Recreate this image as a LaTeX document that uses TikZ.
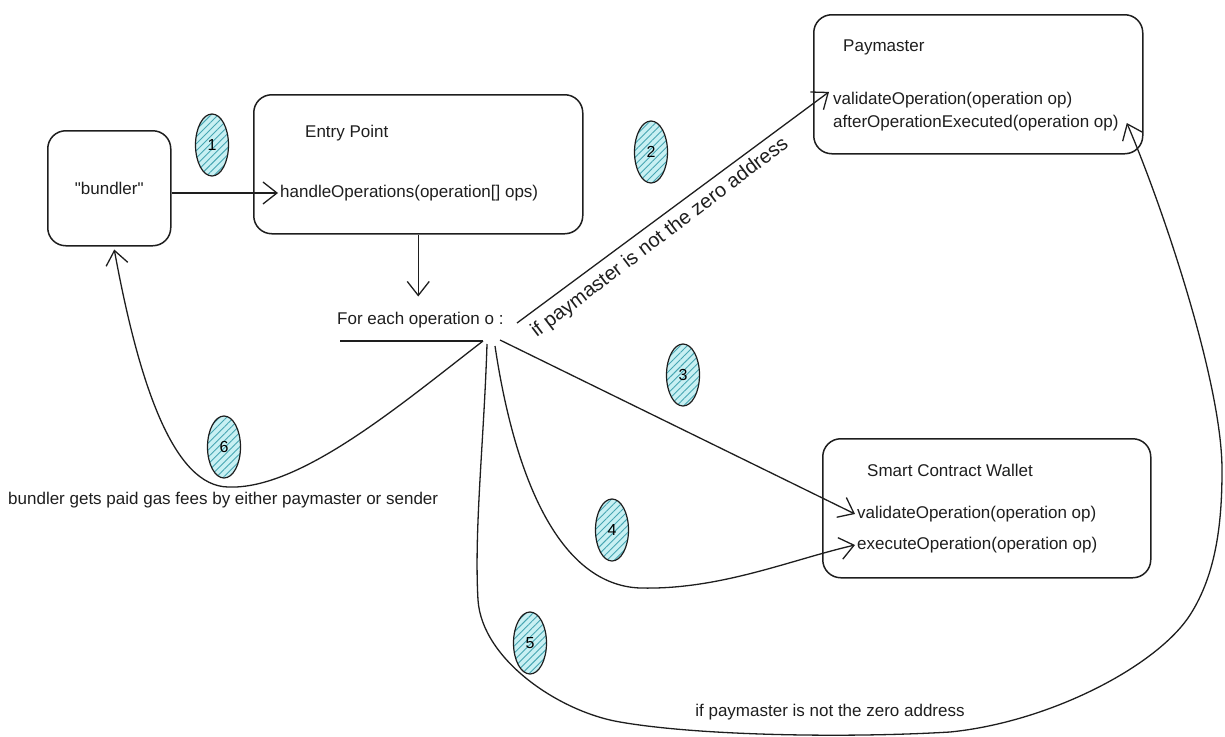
\documentclass[tikz,border=0pt]{standalone}
\usepackage{fontspec}
\setmainfont{Liberation Sans}[Ligatures=TeXOff]
\definecolor{inkdark}{RGB}{30, 30, 30}
\definecolor{hatchfill}{RGB}{200, 240, 243}
\definecolor{hatchline}{RGB}{70, 165, 178}
\usetikzlibrary{arrows.meta, shapes.geometric, patterns.meta, positioning}
\tikzset{
  box/.style={draw=inkdark, line width=1.5pt, rounded corners=18pt, anchor=north west, inner sep=0pt},
  txt/.style={font=\fontsize{17}{23}\selectfont, text=inkdark, inner sep=0pt, anchor=west},
  badge/.style={ellipse, draw=inkdark, line width=1.2pt, minimum width=33pt, minimum height=62pt,
    inner sep=0pt, preaction={fill=hatchfill}, pattern={Lines[angle=45, distance=5pt, line width=0.9pt]},
    pattern color=hatchline, font=\fontsize{16}{16}\selectfont},
  flow/.style={draw=inkdark, line width=1.3pt, -{Straight Barb[length=14pt, width=22pt]}},
}

\begin{document}
\begin{tikzpicture}[x=1pt, y=-1pt]
  \useasboundingbox (0,0) rectangle (1225,736);

  % boxes
  \node[box, minimum width=123pt, minimum height=115pt] (bundlerbox) at (47,130) {};
  \node[box, minimum width=329pt, minimum height=139pt] (entrybox) at (253,94) {};
  \node[box, minimum width=329pt, minimum height=139pt] (pmbox) at (813,14) {};
  \node[box, minimum width=328pt, minimum height=139pt] (scwbox) at (822,438) {};

  % texts
  \node[txt, anchor=center] (bundler) at (bundlerbox.center) {"bundler"};
  \node[txt] (entry) at (305,133) {Entry Point};
  \node[txt] (handle) at (280,193) {handleOperations(operation[] ops)};
  \node[txt] (pm) at (843,47) {Paymaster};
  \node[txt] (pmv) at (833,100) {validateOperation(operation op)};
  \node[txt] (pma) at (833,123) {afterOperationExecuted(operation op)};
  \node[txt] (scw) at (867,470) {Smart Contract Wallet};
  \node[txt] (scwv) at (857,514) {validateOperation(operation op)};
  \node[txt] (scwe) at (857,545) {executeOperation(operation op)};
  \node[txt] (forop) at (337,320) {For each operation o :};
  \node[txt] (paid) at (8,500) {bundler gets paid gas fees by either paymaster or sender};
  \node[txt, anchor=center] (zeronote) at (830,712) {if paymaster is not the zero address};
  \node[txt, anchor=center, rotate=37.2, font=\fontsize{20}{24}\selectfont] (pmnote) at (660,238)
    {if paymaster is not the zero address};

  % step badges
  \node[badge] (n1) at (212,145) {1};
  \node[badge] (n2) at (651,152) {2};
  \node[badge] (n3) at (683,375) {3};
  \node[badge] (n4) at (612,530) {4};
  \node[badge] (n5) at (530,643) {5};
  \node[badge] (n6) at (224,447) {6};

  % hub under the loop
  \coordinate (ulstart) at (340,341);
  \coordinate (hub) at (483,341);
  \coordinate (o2) at (517,323);
  \coordinate (o3) at (500,340);
  \coordinate (o4) at (495,346);
  \coordinate (o5) at (487,344);

  % connectors
  \draw[flow] (bundlerbox.east |- handle.west) -- ([xshift=-2pt]handle.west);
  \draw[flow] (entrybox.south) -- ++(0,62);
  \draw[draw=inkdark, line width=1.3pt] (ulstart) -- (hub);
  \draw[flow] (o2) -- ([xshift=-4pt]pmv.north west);
  \draw[flow] (o3) -- ([xshift=-2pt]scwv.west);
  \draw[flow] (o4) .. controls (515,480) and (560,585) .. (640,588)
    .. controls (720,590) and (790,560) .. ([xshift=-2pt]scwe.west);
  \draw[flow] (o5) .. controls (484,440) and (474,530) .. (478,600)
    .. controls (482,660) and (560,712) .. (620,722)
    .. controls (700,736) and (850,738) .. (950,732)
    .. controls (1050,722) and (1157,666) .. (1190,615)
    .. controls (1217,573) and (1222,520) .. (1222,470)
    .. controls (1222,380) and (1160,200) .. ([xshift=8pt]pma.east);
  \draw[flow] (hub) .. controls (400,405) and (300,490) .. (228,487)
    .. controls (175,486) and (140,390) .. ([xshift=5pt,yshift=-3pt]bundlerbox.south);
\end{tikzpicture}
\end{document}
